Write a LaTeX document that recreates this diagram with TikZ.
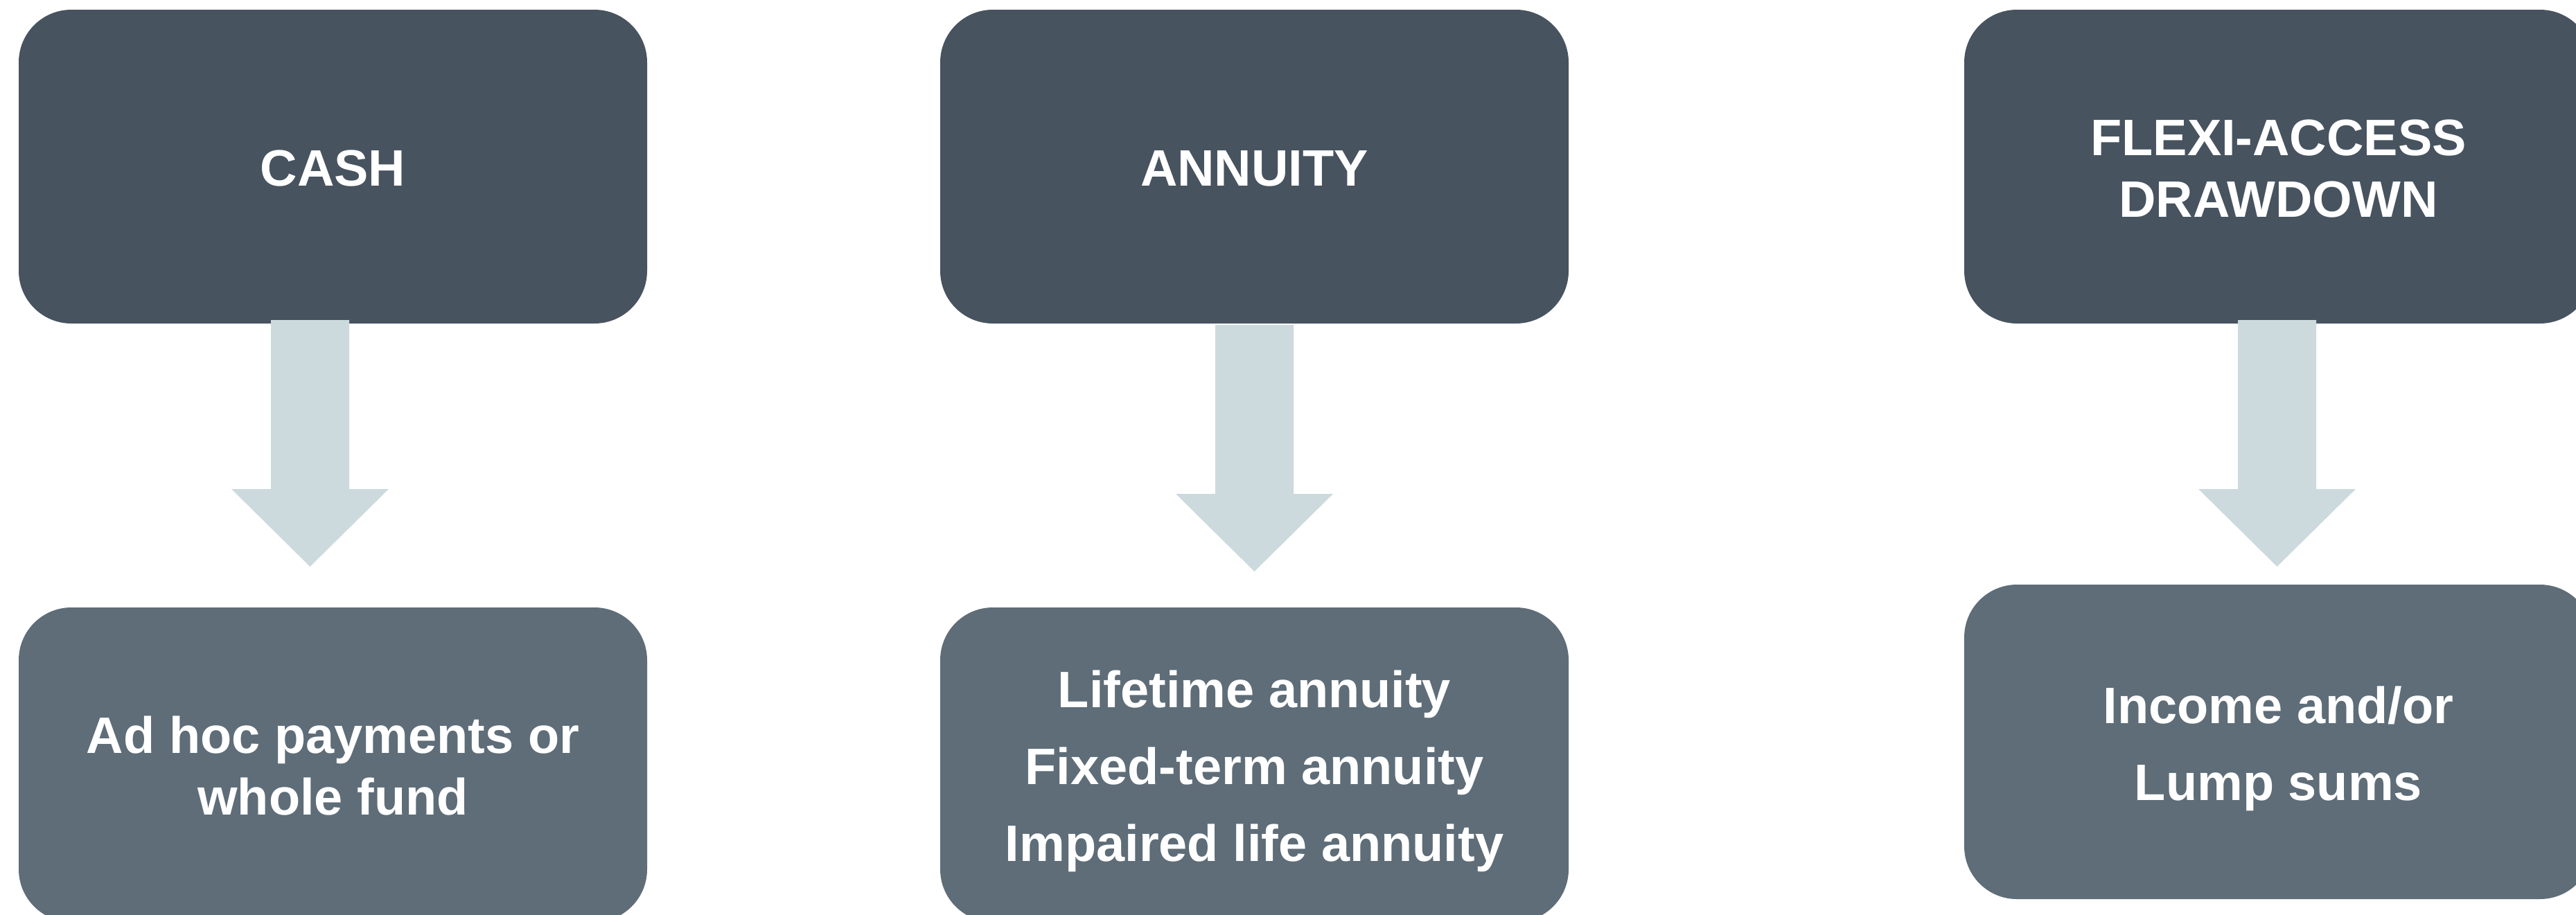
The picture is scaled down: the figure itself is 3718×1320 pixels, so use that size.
\documentclass[tikz,border=0pt]{standalone}
\usepackage{fontspec}
\setmainfont{Liberation Sans}
\usetikzlibrary{calc}
\definecolor{topfill}{HTML}{47535F}
\definecolor{botfill}{HTML}{5E6D78}
\definecolor{arrowfill}{HTML}{CCDADE}
% #1 = shaft top coordinate, #2 = tip coordinate
\newcommand\fatarrow[2]{%
  \fill[arrowfill] ($(#1)+(-56.5,0)$) -- ($(#1)+(56.5,0)$) -- ($(#2)+(56.5,-112)$)
    -- ($(#2)+(113.5,-112)$) -- (#2) -- ($(#2)+(-113.5,-112)$) -- ($(#2)+(-56.5,-112)$) -- cycle;}
\begin{document}
\begin{tikzpicture}[x=0.1mm,y=-0.1mm,
  box/.style={rectangle, rounded corners=7.6mm, minimum width=90.7mm, minimum height=45.4mm, inner sep=0pt, draw=none},
  topbox/.style={box, fill=topfill},
  botbox/.style={box, fill=botfill},
  lbl/.style={anchor=base, inner sep=0pt, text=white, font=\fontsize{21.05pt}{25.32pt}\selectfont\bfseries},
  lblwide/.style={lbl, font=\fontsize{21.05pt}{31.72pt}\selectfont\bfseries}]
\useasboundingbox (0,0) rectangle (3718,1320);
\clip (0,0) rectangle (3718,1320);
% top boxes
\node[topbox, minimum height=45.3mm] (cash) at (480.5,240.5) {};
\node[topbox, minimum height=45.3mm] (annuity) at (1810.5,240.5) {};
\node[topbox, minimum height=45.3mm] (flexi) at (3288.5,240.5) {};
% bottom boxes
\node[botbox] (cashout) at (480.5,1104) {};
\node[botbox] (annout) at (1810.5,1104) {};
\node[botbox] (flexiout) at (3288.5,1071) {};
% labels
\node[lbl] (tcash) at (480.5,268) {CASH};
\node[lbl] (tann) at (1810.5,268) {ANNUITY};
\node[lbl] (tflexi) at (3288.5,224) {\begin{tabular}[t]{@{}c@{}}FLEXI-ACCESS\\DRAWDOWN\end{tabular}};
\node[lbl] (tcashout) at (480.5,1087) {\begin{tabular}[t]{@{}c@{}}Ad hoc payments or\\whole fund\end{tabular}};
\node[lblwide] (tannout) at (1810.5,1021) {\begin{tabular}[t]{@{}c@{}}Lifetime annuity\\Fixed-term annuity\\Impaired life annuity\end{tabular}};
\node[lblwide] (tflexiout) at (3288.5,1044) {\begin{tabular}[t]{@{}c@{}}Income and/or\\Lump sums\end{tabular}};
% arrows
\coordinate (a1s) at (447.5,462);  \coordinate (a1t) at (447.5,818);
\coordinate (a2s) at (1810.5,469); \coordinate (a2t) at (1810.5,825);
\coordinate (a3s) at (3286.5,462); \coordinate (a3t) at (3286.5,818);
\fatarrow{a1s}{a1t}
\fatarrow{a2s}{a2t}
\fatarrow{a3s}{a3t}
\end{tikzpicture}
\end{document}
